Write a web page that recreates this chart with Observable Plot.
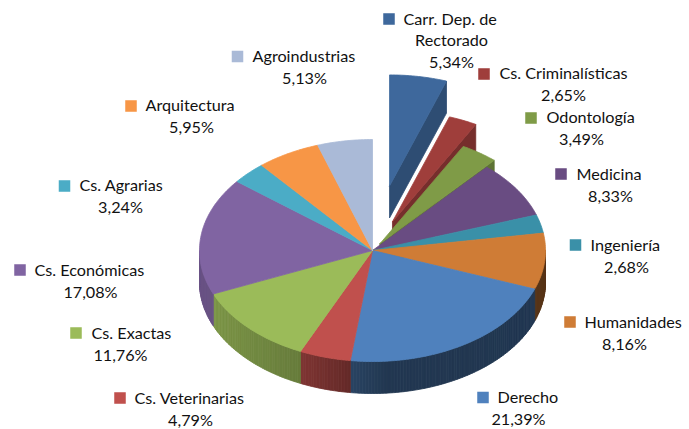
<!DOCTYPE html>
<html>
<head>
<meta charset="utf-8">
<script src="https://cdn.jsdelivr.net/npm/d3@7"></script>
<script src="https://cdn.jsdelivr.net/npm/@observablehq/plot@0.6"></script>
<style>html,body{margin:0;padding:0;background:#fff}svg{display:block}</style>
</head>
<body>
<div id="chart"></div>
<script>
const categories = ["Carr. Dep. de Rectorado","Cs. Criminalísticas","Odontología","Medicina","Ingeniería","Humanidades","Derecho","Cs. Veterinarias","Cs. Exactas","Cs. Económicas","Cs. Agrarias","Arquitectura","Agroindustrias"];
const shares = [5.34,2.65,3.49,8.33,2.68,8.16,21.39,4.79,11.76,17.08,3.24,5.95,5.13];
const shareLabels = ["5,34%","2,65%","3,49%","8,33%","2,68%","8,16%","21,39%","4,79%","11,76%","17,08%","3,24%","5,95%","5,13%"];
const explosion = [0.59,0.284,0.075,0,0,0,0,0,0,0,0,0,0];
const palette = ["#3E689C","#9F3E3B","#7F9B47","#694C82","#3A90A8","#CF7C36","#4F81BD","#C0504D","#9BBB59","#8064A2","#4BACC6","#F79646","#AABAD7"];

// Label layout: swatch centre, first-line start, centre of following lines, first-line y
const labelLayout = [
  [388.5,18.5,403,451,19],[483.5,73.5,499,563,73],[530.5,117.5,546,581,117],[560.5,173.5,576,610,174],
  [575,244.5,590,626,245],[569.5,321.5,584,624,322],[482.5,397,497,518,397],[119.5,397.5,134,190,398],
  [75.5,332.5,91,120,333],[19.5,269.5,34,90,270],[64,185.5,79,120,185],[130.5,105.5,145,191,105],[237,56,252,304,56]
];

const pie = {cx: 372, cy: 250, rx: 173, ry: 111, depth: 32};
const total = d3.sum(shares);
const shade = d3.scaleLinear().domain([199,300,350,385,545]).range([0.82,0.66,0.52,0.43,0.42]).clamp(true);
const dim = (c, k) => { const r = d3.rgb(c); return d3.rgb(r.r*k, r.g*k, r.b*k).formatHex(); };

const pieces = [];
let id = 0;
const addPoly = (pts, fill) => { id++; for (const [x,y] of [...pts, pts[0]]) pieces.push({id, x, y, fill}); };

let acc = 0;
const slices = shares.map((v,i) => {
  const a0 = acc/total*2*Math.PI; acc += v; const a1 = acc/total*2*Math.PI;
  const m = (a0+a1)/2;
  return {i, a0, a1,
    ox: pie.cx + explosion[i]*pie.rx*Math.sin(m),
    oy: pie.cy - explosion[i]*pie.ry*Math.cos(m)};
});
const pt = (s,a) => [s.ox + pie.rx*Math.sin(a), s.oy - pie.ry*Math.cos(a)];

for (const s of slices) {
  const base = palette[s.i];
  if (explosion[s.i] > 0) {
    const e = pt(s,s.a1);
    addPoly([[s.ox,s.oy],e,[e[0],e[1]+pie.depth],[s.ox,s.oy+pie.depth]], dim(base,0.74));
  }
  const lo = Math.max(s.a0, Math.PI/2), hi = Math.min(s.a1, 3*Math.PI/2);
  if (hi > lo) {
    const n = Math.ceil((hi-lo)/(Math.PI/180));
    for (let k=0;k<n;k++) {
      const p = pt(s, lo+(hi-lo)*k/n), q = pt(s, lo+(hi-lo)*(k+1)/n);
      addPoly([p,q,[q[0],q[1]+pie.depth],[p[0],p[1]+pie.depth]], dim(base, shade((p[0]+q[0])/2)));
    }
  }
  const n = Math.max(2, Math.ceil((s.a1-s.a0)/(Math.PI/180)));
  const arc = d3.range(n+1).map(k => pt(s, s.a0+(s.a1-s.a0)*k/n));
  addPoly([[s.ox,s.oy],...arc], base);
}

const swatches = categories.map((c,i)=>({c, x: labelLayout[i][0], y: labelLayout[i][1], fill: palette[i]}));
const lines = [];
categories.forEach((c,i)=>{
  const [,,sx,mx,ly] = labelLayout[i];
  const step = 22;
  if (i===0) {
    lines.push({t:"Carr. Dep. de",x:sx,y:ly,a:"start"});
    lines.push({t:"Rectorado",x:mx,y:ly+step-0.5,a:"middle"});
    lines.push({t:shareLabels[i],x:mx,y:ly+2*step-1,a:"middle"});
  } else {
    lines.push({t:c,x:sx,y:ly,a:"start"});
    lines.push({t:shareLabels[i],x:mx,y:ly+step,a:"middle"});
  }
});
const textOpts = {text:"t",x:"x",y:"y",fontFamily:"Lato, Carlito, sans-serif",fontSize:16.2,fill:"#111",lineAnchor:"middle"};

const plot = Plot.plot({
  width:689, height:429, margin:0,
  x:{domain:[0,689],range:[0,689],axis:null},
  y:{domain:[0,429],range:[0,429],axis:null},
  color:{type:"identity"},
  style:{background:"#fff"},
  marks:[
    Plot.line(pieces,{x:"x",y:"y",z:"id",fill:"fill",stroke:"fill",strokeWidth:0.8,curve:"linear"}),
    Plot.dot(swatches,{x:"x",y:"y",symbol:"square",r:6.5,fill:"fill",stroke:null}),
    Plot.text(lines.filter(d=>d.a==="start"),{...textOpts,textAnchor:"start"}),
    Plot.text(lines.filter(d=>d.a==="middle"),{...textOpts,textAnchor:"middle"})
  ]
});
document.getElementById("chart").appendChild(plot);
</script>
</body>
</html>
